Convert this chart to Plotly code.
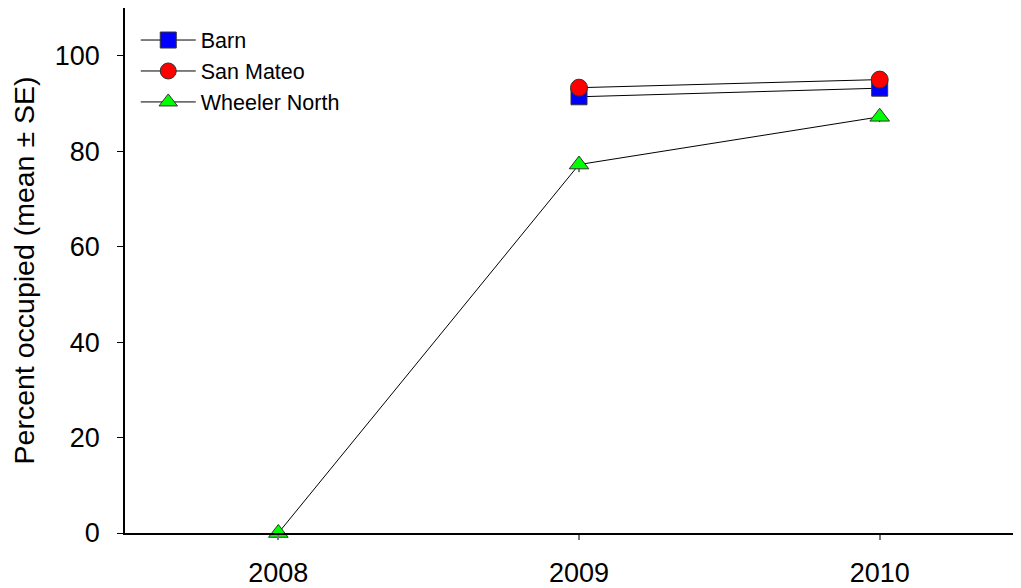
import plotly.graph_objects as go

years = [2008, 2009, 2010]
barn_years = [2009, 2010]
barn = [91.4, 93.2]
barn_se = [0.8, 0.6]
sanmateo_years = [2009, 2010]
sanmateo = [93.3, 95.0]
sanmateo_se = [0.7, 0.5]
wheeler_years = [2008, 2009, 2010]
wheeler = [0.0, 77.2, 87.2]
wheeler_se = [0.0, 1.6, 1.1]

series = [
    ("Barn", barn_years, barn, barn_se, "square", "#0000FF", 16),
    ("San Mateo", sanmateo_years, sanmateo, sanmateo_se, "circle", "#FF0000", 17),
    ("Wheeler North", wheeler_years, wheeler, wheeler_se, "triangle-up", "#00FF00", 17),
]

fig = go.Figure()
for name, xs, ys, se, sym, col, sz in series:
    fig.add_trace(go.Scatter(
        x=xs, y=ys, name=name, mode="lines+markers",
        line=dict(color="black", width=1),
        marker=dict(symbol=sym, color=col, size=sz, line=dict(color="#333333", width=1)),
        error_y=dict(type="data", array=se, color="black", thickness=1, width=0),
        cliponaxis=False,
    ))

# the page body has an 8px margin, so the figure is drawn at (8, 8)
font = "Liberation Sans, Arial, sans-serif"
fig.update_layout(
    width=1013, height=580,
    margin=dict(l=117, r=0, t=0, b=55),
    paper_bgcolor="white", plot_bgcolor="white",
    font=dict(family=font, color="black", size=27),
    showlegend=True,
    legend=dict(x=0.012, y=0.978, xanchor="left", yanchor="top",
                font=dict(size=21.5), bgcolor="rgba(0,0,0,0)",
                tracegroupgap=0, itemwidth=55),
    xaxis=dict(range=[2007.49, 2010.47], tickvals=years, ticktext=[str(y) for y in years],
               showline=True, linecolor="black", linewidth=1.5, showgrid=False, zeroline=False,
               ticks="outside", ticklen=5, tickcolor="#777777", tickwidth=1.5,
               ticklabelstandoff=10),
    yaxis=dict(range=[0, 110], tickvals=[0, 20, 40, 60, 80, 100],
               showline=True, linecolor="black", linewidth=1.5, showgrid=False, zeroline=False,
               ticks="outside", ticklen=6, tickcolor="black", tickwidth=1,
               ticklabelstandoff=12,
               title=dict(text="Percent occupied (mean ± SE)", standoff=14, font=dict(size=28.5))),
)

fig.write_html("out.html")
